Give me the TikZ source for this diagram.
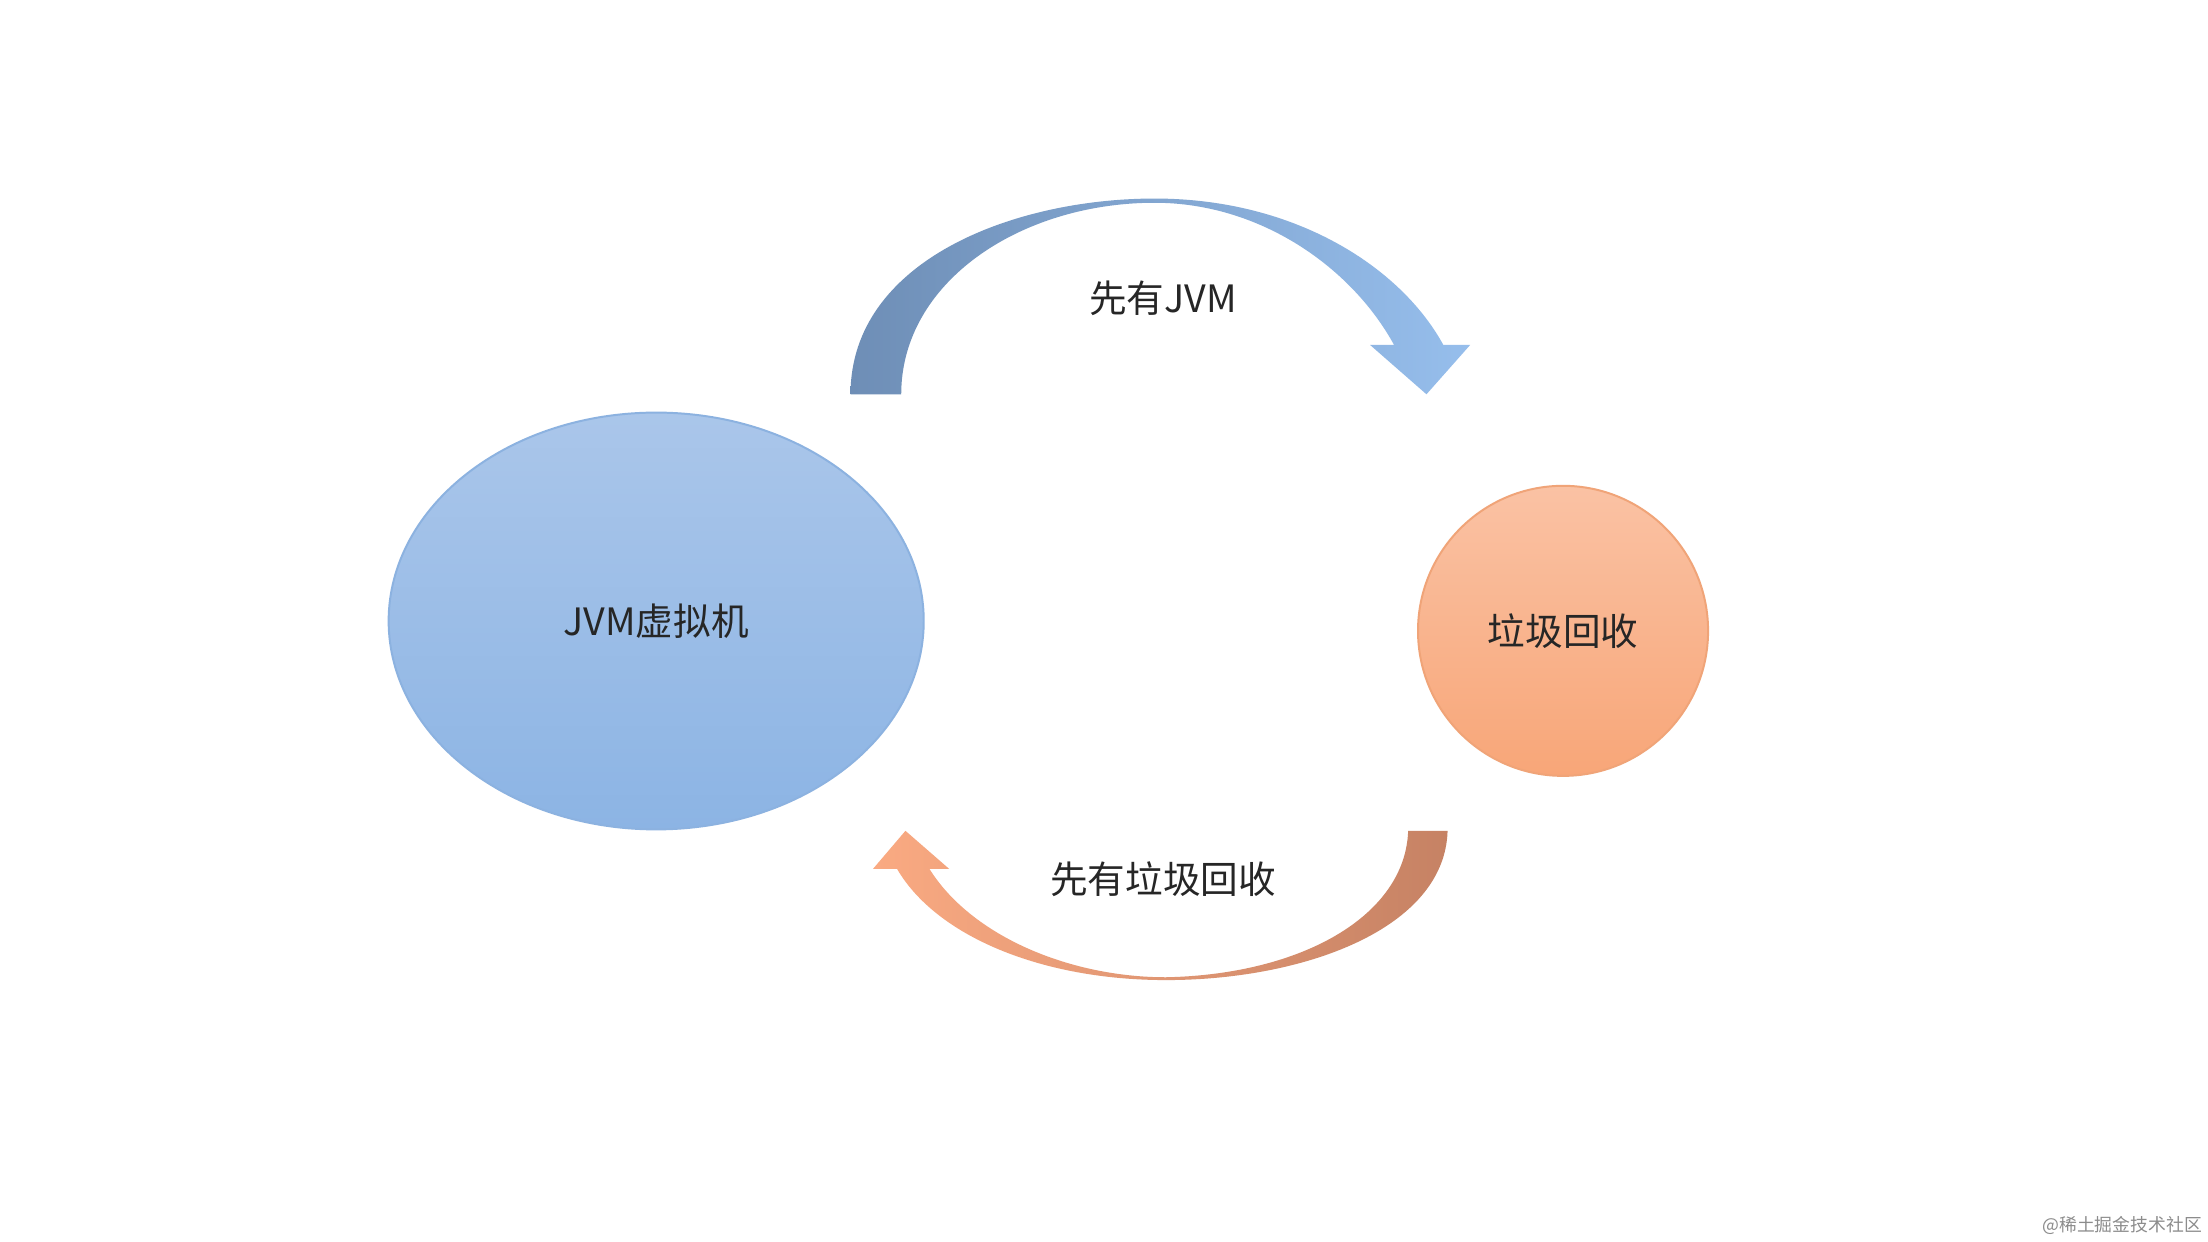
\documentclass[tikz,border=0pt]{standalone}
\usepackage{fontspec}
\setmainfont{Noto Sans CJK SC}
\begin{document}
\begin{tikzpicture}[x=0.01cm,y=-0.01cm,
  lbl/.style={font=\fontsize{7.6pt}{9pt}\selectfont,text=black!85}]
\useasboundingbox[fill=white] (0,0) rectangle (1568,882);
% ellipse
\shade[top color=blue!30!cyan!20!white!70!blue!60!white, top color={rgb,255:red,170;green,198;blue,234}, bottom color={rgb,255:red,140;green,180;blue,228}, draw={rgb,255:red,140;green,178;blue,224}, line width=0.4pt] (466,441) ellipse [x radius=190, y radius=148];
\node[lbl] (jvm) at (466,441) {JVM虚拟机};
% circle
\shade[top color={rgb,255:red,250;green,194;blue,164}, bottom color={rgb,255:red,248;green,166;blue,120}, draw={rgb,255:red,240;green,164;blue,120}, line width=0.4pt] (1110,448) circle [radius=103];
\node[lbl] (gc) at (1110,448) {垃圾回收};
% top arrow
\shade[left color={rgb,255:red,110;green,142;blue,182}, right color={rgb,255:red,150;green,190;blue,236}]
 (604,280) .. controls (604,185) and (720,141) .. (820,141)
 .. controls (920,141) and (995,190) .. (1025,245) -- (1044,245) -- (1013,280) -- (973,245) -- (990,245)
 .. controls (960,190) and (895,144) .. (820,144)
 .. controls (725,144) and (640,200) .. (640,280) -- cycle;
\node[lbl] (t1) at (826,212) {先有JVM};
% bottom arrow
\shade[left color={rgb,255:red,250;green,170;blue,130}, right color={rgb,255:red,198;green,130;blue,100}]
 (1028,590) .. controls (1026,660) and (925,696) .. (828,696)
 .. controls (740,696) and (665,665) .. (637,617) -- (620,617) -- (643,590) -- (674,617) -- (660,617)
 .. controls (690,665) and (760,694) .. (828,694)
 .. controls (925,692) and (998,650) .. (1000,590) -- cycle;
\node[lbl] (t2) at (826,624) {先有垃圾回收};
\node[font=\fontsize{3.6pt}{4pt}\selectfont,text=black!45] (wm) at (1507,870) {@稀土掘金技术社区};
\end{tikzpicture}
\end{document}
